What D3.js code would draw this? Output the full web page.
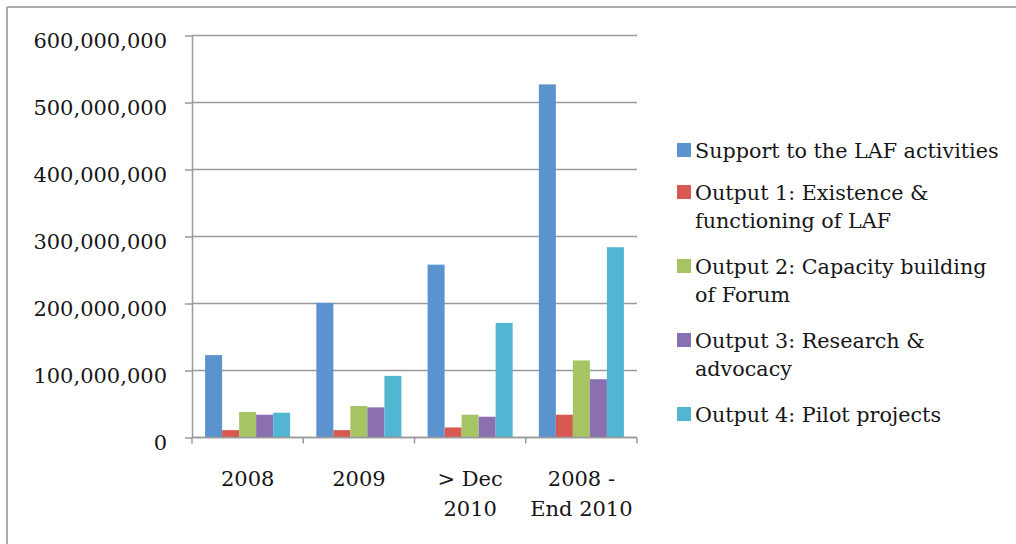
<!DOCTYPE html>
<html>
<head>
<meta charset="utf-8">
<script src="https://cdn.jsdelivr.net/npm/d3@7"></script>
<style>
  html, body { margin: 0; padding: 0; background: #fff; }
  svg { display: block; }
  text { font-family: "DejaVu Serif", "Liberation Serif", serif; fill: #161616; }
</style>
</head>
<body>
<svg id="chart" width="1016" height="544"></svg>
<script>
// Budget by period (values in the chart's currency units)
const categories = ["2008", "2009", "> Dec\n2010", "2008 -\nEnd 2010"];
const seriesNames = [
  "Support to the LAF activities",
  "Output 1: Existence &\nfunctioning of LAF",
  "Output 2: Capacity building\nof Forum",
  "Output 3: Research &\nadvocacy",
  "Output 4: Pilot projects"
];
const supportLAF   = [123000000, 201000000, 258000000, 527000000];
const output1      = [11000000, 11000000, 15000000, 34000000];
const output2      = [38000000, 47000000, 34000000, 115000000];
const output3      = [34000000, 45000000, 31000000, 87000000];
const output4      = [37000000, 92000000, 171000000, 284000000];
const yTicks       = [0, 100000000, 200000000, 300000000, 400000000, 500000000, 600000000];
const colors       = ["#5b93cf", "#d65a52", "#a6c464", "#8a70b0", "#52b6d3"];

const seriesValues = [supportLAF, output1, output2, output3, output4];

const svg = d3.select("#chart");

// Outer frame (top and left edges)
svg.append("line").attr("x1", 7).attr("x2", 1016).attr("y1", 7).attr("y2", 7)
  .attr("stroke", "#ababab").attr("stroke-width", 2);
svg.append("line").attr("x1", 7).attr("x2", 7).attr("y1", 7).attr("y2", 544)
  .attr("stroke", "#ababab").attr("stroke-width", 2);

const plot = { left: 192, right: 637, top: 35.5, bottom: 437.5 };

const y = d3.scaleLinear().domain([0, 600000000]).range([plot.bottom, plot.top]);
const x0 = d3.scaleBand().domain(categories).range([plot.left, plot.right]).padding(0);
const x1 = d3.scaleBand().domain(d3.range(seriesNames.length))
  .range([0, x0.bandwidth()]).paddingInner(0).paddingOuter(0.77);

// Horizontal gridlines
svg.append("g").selectAll("line").data(yTicks).join("line")
  .attr("x1", plot.left).attr("x2", plot.right)
  .attr("y1", d => y(d)).attr("y2", d => y(d))
  .attr("stroke", "#9a9a9a").attr("stroke-width", 1.5);

// Bars
const groups = svg.append("g").selectAll("g").data(categories).join("g")
  .attr("transform", c => `translate(${x0(c)},0)`);
groups.selectAll("rect")
  .data((c, ci) => seriesValues.map((vals, si) => ({ si, v: vals[ci] })))
  .join("rect")
  .attr("x", d => x1(d.si))
  .attr("width", x1.bandwidth())
  .attr("y", d => y(d.v))
  .attr("height", d => y(0) - y(d.v))
  .attr("fill", d => colors[d.si]);

// Y axis
const yAxis = svg.append("g").attr("transform", `translate(${plot.left},0)`)
  .call(d3.axisLeft(y).tickValues(yTicks).tickFormat(d3.format(",")).tickSizeInner(7).tickSizeOuter(0).tickPadding(18));
yAxis.select(".domain").attr("stroke", "#9a9a9a").attr("stroke-width", 1.5);
yAxis.selectAll(".tick line").attr("stroke", "#9a9a9a").attr("stroke-width", 1.5);
yAxis.selectAll(".tick text")
  .attr("font-family", "DejaVu Serif").attr("font-size", 21).attr("fill", "#161616")
  .attr("dy", "0.55em");

// X axis
const xAxisG = svg.append("g").attr("transform", `translate(0,${plot.bottom})`);
xAxisG.append("line").attr("x1", plot.left).attr("x2", plot.right)
  .attr("stroke", "#9a9a9a").attr("stroke-width", 1.5);
const bounds = categories.map(c => x0(c)).concat([plot.right]);
xAxisG.selectAll("line.tk").data(bounds).join("line").attr("class", "tk")
  .attr("x1", d => d).attr("x2", d => d).attr("y1", 0).attr("y2", 6)
  .attr("stroke", "#9a9a9a").attr("stroke-width", 1.5);
xAxisG.selectAll("text").data(categories).join("text")
  .attr("text-anchor", "middle")
  .attr("font-size", 21)
  .attr("transform", c => `translate(${x0(c) + x0.bandwidth() / 2},0)`)
  .each(function (c) {
    const t = d3.select(this);
    c.split("\n").forEach((line, i) => {
      t.append("tspan").attr("x", 0).attr("y", 48 + i * 30).text(line);
    });
  });

// Legend
const legendRowTop = i => (i === 0 ? 143 : 185 + (i - 1) * 74);
const legend = svg.append("g").selectAll("g").data(seriesNames).join("g")
  .attr("transform", (d, i) => `translate(677,${legendRowTop(i)})`);
legend.append("rect").attr("width", 14).attr("height", 14)
  .attr("fill", (d, i) => colors[i]);
legend.append("text").attr("font-size", 20.7)
  .each(function (name) {
    const t = d3.select(this);
    name.split("\n").forEach((line, i) => {
      t.append("tspan").attr("x", 18).attr("y", 15 + i * 28).text(line);
    });
  });
</script>
</body>
</html>
